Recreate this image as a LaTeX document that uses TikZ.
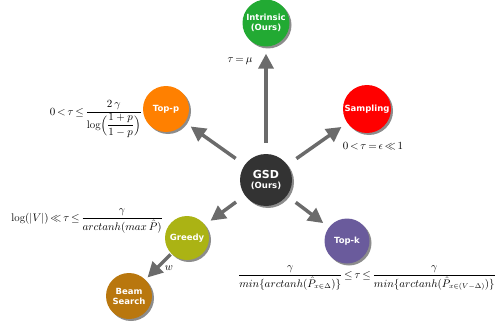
\documentclass[tikz,border=0pt]{standalone}
\usepackage{amsmath,amssymb}
\usepackage{fontspec}
\usetikzlibrary{arrows.meta,shadows}
\newfontfamily\algofont{DejaVu Sans}
\definecolor{gsdblack}{HTML}{333333}
\definecolor{intrgreen}{HTML}{22AA33}
\definecolor{topporange}{HTML}{FF8000}
\definecolor{samplred}{HTML}{FF0000}
\definecolor{greedyolive}{HTML}{ABB314}
\definecolor{topkpurple}{HTML}{6A5B9C}
\definecolor{beambrown}{HTML}{B9770E}
\definecolor{linkgray}{HTML}{6B6B6B}
\thickmuskip=3mu plus 2mu
\begin{document}
\begin{tikzpicture}[x=1pt,y=1pt,
    algo/.style={circle,text=white,align=center,inner sep=0pt,minimum size=46pt,
        font=\algofont\bfseries\fontsize{8.5}{10}\selectfont,
        drop shadow={shadow xshift=2pt,shadow yshift=-2pt,opacity=0.45,fill=black}},
    link/.style={draw=linkgray,line width=3.5pt,-{Triangle[length=15pt,width=15pt]},
        shorten >=7pt,shorten <=11pt},
    cond/.style={font=\fontsize{11}{13}\selectfont,inner sep=0pt}]
    \useasboundingbox (0,0) rectangle (495,322);
    \node[algo,fill=gsdblack,minimum size=52pt] (gsd) at (266,142) {{\fontsize{11}{13}\selectfont GSD}\\(Ours)};
    \node[algo,fill=intrgreen,minimum size=47pt] (intr) at (266,299) {Intrinsic\\(Ours)};
    \node[algo,fill=topporange] (topp) at (166,213) {Top-p};
    \node[algo,fill=samplred,minimum size=48pt] (samp) at (367,213) {Sampling};
    \node[algo,fill=greedyolive,minimum size=44pt] (greedy) at (187,84) {Greedy};
    \node[algo,fill=topkpurple,minimum size=45pt] (topk) at (347,81) {Top-k};
    \node[algo,fill=beambrown] (beam) at (129,26) {Beam\\Search};
    \draw[link] (gsd) -- (intr);
    \draw[link] (gsd) -- (topp);
    \draw[link] (gsd) -- (samp);
    \draw[link] (gsd) -- (greedy);
    \draw[link] (gsd) -- (topk);
    \draw[link,shorten <=1pt,shorten >=3pt] (greedy) -- (beam) node[cond,pos=0.55,right=6pt] (w) {$w$};
    \node[cond] (cintr) at (240,261) {$\tau=\mu$};
    \node[cond,anchor=base east] (ctopp) at (142,207) {$0<\tau\leq\dfrac{2\,\gamma}{\log\Bigl(\dfrac{1+p}{1-p}\Bigr)}$};
    \node[cond] (csamp) at (373,176) {$0<\tau=\epsilon\ll1$};
    \node[cond,anchor=base east] (cgreedy) at (163,101) {$\log(|V|)\ll\tau\leq\dfrac{\gamma}{arctanh(max\,\hat{P})}$};
    \node[cond,anchor=base,font=\fontsize{10.5}{12}\selectfont] (ctopk) at (367,44) {$\dfrac{\gamma}{min\{arctanh(\hat{P}_{x\in\Delta})\}}\leq\tau\leq\dfrac{\gamma}{min\{arctanh(\hat{P}_{x\in(V-\Delta)})\}}$};
\end{tikzpicture}
\end{document}
